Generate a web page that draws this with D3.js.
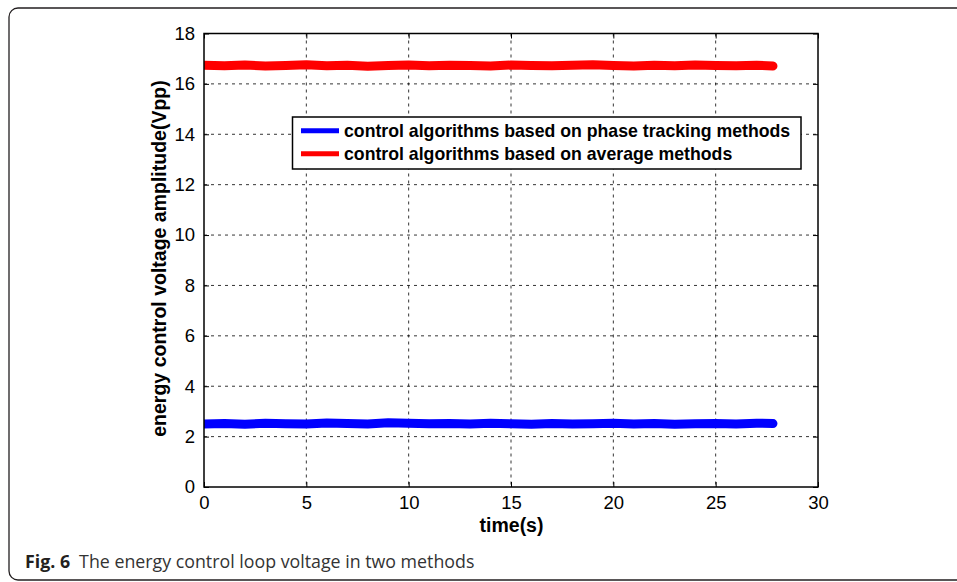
<!DOCTYPE html>
<html>
<head>
<meta charset="utf-8">
<script src="https://cdn.jsdelivr.net/npm/d3@7"></script>
<style>
  body { margin: 0; background: #fff; }
  svg { display: block; }
</style>
</head>
<body>
<div id="chart"></div>
<script>
// values
var timeS = [0, 1, 2, 3, 4, 5, 6, 7, 8, 9, 10, 11, 12, 13, 14, 15, 16, 17, 18, 19, 20, 21, 22, 23, 24, 25, 26, 27, 27.8];
var averageVpp = [16.74, 16.72, 16.75, 16.71, 16.73, 16.76, 16.72, 16.74, 16.70, 16.73, 16.75, 16.72, 16.74, 16.73, 16.71,
                  16.75, 16.73, 16.72, 16.74, 16.76, 16.73, 16.71, 16.74, 16.72, 16.75, 16.73, 16.72, 16.74, 16.71];
var phaseVpp = [2.50, 2.52, 2.49, 2.53, 2.51, 2.50, 2.54, 2.52, 2.50, 2.55, 2.53, 2.51, 2.52, 2.50, 2.53,
                2.51, 2.49, 2.52, 2.50, 2.51, 2.53, 2.50, 2.52, 2.49, 2.51, 2.52, 2.50, 2.53, 2.52];
var xTicks = [0, 5, 10, 15, 20, 25, 30];
var yTicks = [0, 2, 4, 6, 8, 10, 12, 14, 16, 18];
var seriesNames = ["control algorithms based on phase tracking methods", "control algorithms based on average methods"];
var seriesColors = ["#0000ff", "#ff0000"];

var width = 957, height = 582;
var plotLeft = 204, plotRight = 818, plotTop = 33.5, plotBottom = 487;

var svg = d3.select("#chart").append("svg")
    .attr("width", width)
    .attr("height", height);

// figure frame
svg.append("rect")
    .attr("x", 9).attr("y", 8)
    .attr("width", 1000).attr("height", 572)
    .attr("rx", 9)
    .attr("fill", "none")
    .attr("stroke", "#231f20")
    .attr("stroke-width", 1.3);

var x = d3.scaleLinear().domain([0, 30]).range([plotLeft, plotRight]);
var y = d3.scaleLinear().domain([0, 18]).range([plotBottom, plotTop]);

// grid
svg.append("g").selectAll("line").data(xTicks.slice(1, -1)).enter().append("line")
    .attr("x1", function(d) { return x(d); }).attr("x2", function(d) { return x(d); })
    .attr("y1", plotTop).attr("y2", plotBottom)
    .attr("stroke", "#000").attr("stroke-width", 0.8)
    .attr("stroke-dasharray", "3,4");
svg.append("g").selectAll("line").data(yTicks.slice(1, -1)).enter().append("line")
    .attr("y1", function(d) { return y(d); }).attr("y2", function(d) { return y(d); })
    .attr("x1", plotLeft).attr("x2", plotRight)
    .attr("stroke", "#000").attr("stroke-width", 0.8)
    .attr("stroke-dasharray", "3,4");

// data lines
svg.append("clipPath").attr("id", "plotClip")
    .append("rect").attr("x", plotLeft).attr("y", plotTop)
    .attr("width", plotRight - plotLeft).attr("height", plotBottom - plotTop);

var line = d3.line()
    .x(function(d) { return x(d[0]); })
    .y(function(d) { return y(d[1]); });

[phaseVpp, averageVpp].forEach(function(vals, i) {
    svg.append("path")
        .datum(timeS.map(function(t, j) { return [t, vals[j]]; }))
        .attr("d", line)
        .attr("clip-path", "url(#plotClip)")
        .attr("fill", "none")
        .attr("stroke", seriesColors[i])
        .attr("stroke-width", 9)
        .attr("stroke-linecap", "round")
        .attr("stroke-linejoin", "round");
});

// axes box with inward ticks on all sides
var tickLen = 5;
svg.append("g").attr("transform", "translate(0," + plotBottom + ")")
    .call(d3.axisBottom(x).tickValues(xTicks).tickSizeInner(-tickLen).tickSizeOuter(0).tickPadding(9));
svg.append("g").attr("transform", "translate(0," + plotTop + ")")
    .call(d3.axisTop(x).tickValues(xTicks).tickSizeInner(-tickLen).tickSizeOuter(0).tickFormat(""));
svg.append("g").attr("transform", "translate(" + plotLeft + ",0)")
    .call(d3.axisLeft(y).tickValues(yTicks).tickSizeInner(-tickLen).tickSizeOuter(0).tickPadding(9));
svg.append("g").attr("transform", "translate(" + plotRight + ",0)")
    .call(d3.axisRight(y).tickValues(yTicks).tickSizeInner(-tickLen).tickSizeOuter(0).tickFormat(""));

svg.selectAll(".domain").remove();
svg.selectAll(".tick line").attr("stroke", "#000").attr("stroke-width", 1);
svg.selectAll(".tick text")
    .attr("font-family", "Liberation Sans, Arial, sans-serif")
    .attr("font-size", "18.5px")
    .attr("fill", "#000");

svg.append("rect")
    .attr("x", plotLeft).attr("y", plotTop)
    .attr("width", plotRight - plotLeft).attr("height", plotBottom - plotTop)
    .attr("fill", "none")
    .attr("stroke", "#000")
    .attr("stroke-width", 1.5);

// axis titles
svg.append("text")
    .text("time(s)")
    .attr("x", (plotLeft + plotRight) / 2 + 0.5)
    .attr("y", 532)
    .attr("text-anchor", "middle")
    .attr("font-family", "Liberation Sans, Arial, sans-serif")
    .attr("font-weight", "bold")
    .attr("font-size", "19.5px");

svg.append("text")
    .text("energy control voltage amplitude(Vpp)")
    .attr("transform", "translate(166,258.5) rotate(-90)")
    .attr("text-anchor", "middle")
    .attr("font-family", "Liberation Sans, Arial, sans-serif")
    .attr("font-weight", "bold")
    .attr("font-size", "19.5px");

// legend
var legend = svg.append("g");
legend.append("rect")
    .attr("x", 292.5).attr("y", 117)
    .attr("width", 508.5).attr("height", 52)
    .attr("fill", "#fff")
    .attr("stroke", "#000")
    .attr("stroke-width", 1.5);

seriesNames.forEach(function(name, i) {
    var ly = 130.7 + i * 23;
    legend.append("line")
        .attr("x1", 301).attr("x2", 339)
        .attr("y1", ly).attr("y2", ly)
        .attr("stroke", seriesColors[i])
        .attr("stroke-width", 5);
    legend.append("text")
        .text(name)
        .attr("x", 344)
        .attr("y", ly + 6)
        .attr("font-family", "Liberation Sans, Arial, sans-serif")
        .attr("font-weight", "bold")
        .attr("font-size", "17.7px");
});

// caption
var caption = svg.append("text")
    .attr("x", 25)
    .attr("y", 568)
    .attr("font-family", "Open Sans, Noto Sans, sans-serif")
    .attr("font-size", "17.8px")
    .attr("fill", "#333");
caption.append("tspan").text("Fig. 6").attr("font-weight", "bold").attr("fill", "#231f20");
caption.append("tspan").text("The energy control loop voltage in two methods").attr("dx", 9);
</script>
</body>
</html>
